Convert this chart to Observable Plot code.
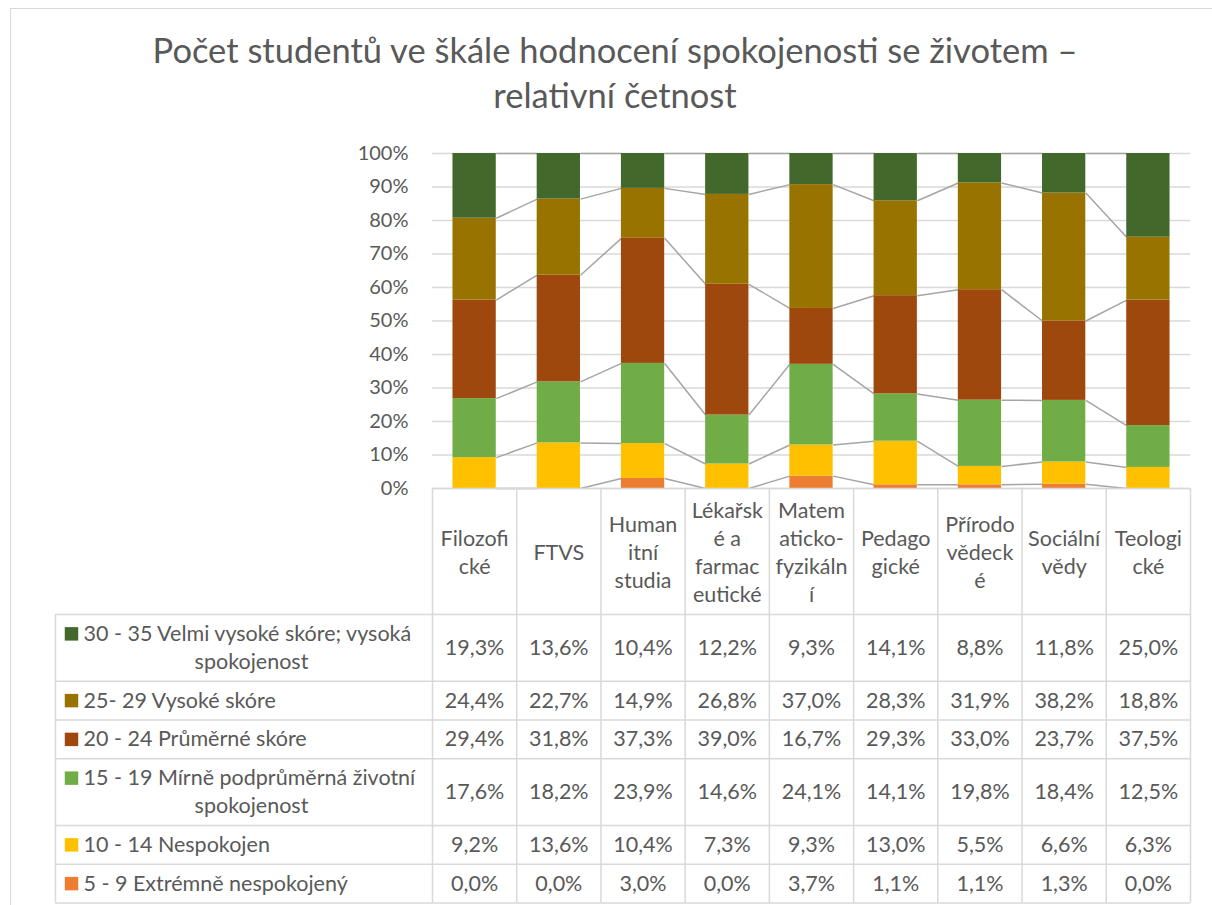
<!DOCTYPE html>
<html><head><meta charset="utf-8">
<script src="https://cdn.jsdelivr.net/npm/d3@7"></script>
<script src="https://cdn.jsdelivr.net/npm/@observablehq/plot@0.6"></script>
<style>
html,body{margin:0;padding:0;background:#fff;overflow:hidden;}
#wrap{position:relative;width:1212px;height:905px;font-family:Lato,sans-serif;}
#frame{position:absolute;left:10px;top:8px;width:1260px;height:960px;border:1.5px solid #d9d9d9;pointer-events:none;}
#title{height:118px;box-sizing:border-box;padding-top:27px;padding-left:18px;text-align:center;font-size:34.5px;line-height:45px;color:#595959;}
#chart svg,#table svg{display:block;}
#table{margin-top:-12px;}
</style></head>
<body>
<div id="wrap">
<div id="frame"></div>
<div id="title">Počet studentů ve škále hodnocení spokojenosti se životem –<br>relativní četnost</div>
<div id="chart"></div>
<div id="table"></div>
</div>
<script>
// ---- data ----
const categories = ["Filozofické","FTVS","Humanitní studia","Lékařské a farmaceutické","Matematicko-fyzikální","Pedagogické","Přírodovědecké","Sociální vědy","Teologické"];
const tickLabels = ["Filozofi\ncké","FTVS","Human\nitní\nstudia","Lékařsk\né a\nfarmac\neutické","Matem\naticko-\nfyzikáln\ní","Pedago\ngické","Přírodo\nvědeck\né","Sociální\nvědy","Teologi\ncké"];
const seriesNames = ["30 - 35 Velmi vysoké skóre; vysoká spokojenost","25- 29 Vysoké skóre","20 - 24 Průměrné skóre","15 - 19 Mírně podprůměrná životní spokojenost","10 - 14 Nespokojen","5 - 9 Extrémně nespokojený"];
const seriesLabels = ["30 - 35 Velmi vysoké skóre; vysoká\nspokojenost","25- 29 Vysoké skóre","20 - 24 Průměrné skóre","15 - 19 Mírně podprůměrná životní\nspokojenost","10 - 14 Nespokojen","5 - 9 Extrémně nespokojený"];
const seriesColors = ["#43682b","#997300","#9e480e","#70ad47","#ffc000","#ed7d31"];
const v30_35 = [19.3,13.6,10.4,12.2,9.3,14.1,8.8,11.8,25.0];
const v25_29 = [24.4,22.7,14.9,26.8,37.0,28.3,31.9,38.2,18.8];
const v20_24 = [29.4,31.8,37.3,39.0,16.7,29.3,33.0,23.7,37.5];
const v15_19 = [17.6,18.2,23.9,14.6,24.1,14.1,19.8,18.4,12.5];
const v10_14 = [9.2,13.6,10.4,7.3,9.3,13.0,5.5,6.6,6.3];
const v5_9   = [0.0,0.0,3.0,0.0,3.7,1.1,1.1,1.3,0.0];
const yTicks = [0,0.1,0.2,0.3,0.4,0.5,0.6,0.7,0.8,0.9,1.0];

const seriesValues = [v30_35,v25_29,v20_24,v15_19,v10_14,v5_9];
const fmt = v => v.toFixed(1).replace(".", ",") + "%";

// ---- stacked (100%) segments, bottom series first ----
const segs = [];
categories.forEach((c, i) => {
  const total = d3.sum(seriesValues, s => s[i]);
  let cum = 0;
  for (let k = seriesValues.length - 1; k >= 0; k--) {
    const v = seriesValues[k][i];
    segs.push({i, cat: c, series: seriesNames[k], v, y1: cum / total, y2: (cum + v) / total});
    cum += v;
  }
});
const links = [];
seriesNames.forEach(s => {
  const sg = segs.filter(d => d.series === s);
  for (let j = 0; j < sg.length - 1; j++) links.push({series: s, i: sg[j].i, a: sg[j].y2, b: sg[j + 1].y2});
});

const TXT = "#595959", GRID = "#d9d9d9";
const BAR_HALF = 0.257;
const axisFont = {fontFamily: "Lato, sans-serif", fontSize: "20px", color: TXT, overflow: "visible"};
const tableFont = {fontFamily: "Lato, sans-serif", fontSize: "21.5px", color: TXT, overflow: "visible"};

const chart = Plot.plot({
  width: 1212, height: 382, marginLeft: 432, marginRight: 22, marginTop: 35, marginBottom: 12,
  style: axisFont,
  x: {domain: [-0.5, categories.length - 0.5], axis: null},
  y: {domain: [0, 1], ticks: yTicks, tickFormat: d3.format(".0%"), tickSize: 0, tickPadding: 24, label: null},
  color: {domain: seriesNames, range: seriesColors},
  marks: [
    Plot.gridY(yTicks, {stroke: GRID, strokeOpacity: 1, strokeWidth: 1.3}),
    Plot.link(links, {x1: d => d.i + BAR_HALF, x2: d => d.i + 1 - BAR_HALF, y1: "a", y2: "b", stroke: "#a5a5a5", strokeWidth: 1.5}),
    Plot.rect(segs.filter(d => d.v > 0), {x1: d => d.i - BAR_HALF, x2: d => d.i + BAR_HALF, y1: "y1", y2: "y2", fill: "series"})
  ]
});
document.getElementById("chart").append(chart);

// ---- data table ----
const LABEL_W = 4.476;      // label column width in column widths
const LINE_H = 28, ROW_PAD = 10.75, HEADER_LINES = 4, HEADER_PAD = 14;
const headerH = HEADER_LINES * LINE_H + HEADER_PAD;
const rowLines = seriesLabels.map(l => l.split("\n").length);
const rows = [];
let yy = headerH;
rowLines.forEach((n, k) => { rows.push({k, top: yy, h: n * LINE_H + ROW_PAD}); yy += n * LINE_H + ROW_PAD; });
const tableBottom = yy;
const xLeft = -0.5 - LABEL_W, xRight = categories.length - 0.5;

const hLines = [{y: 0, x1: -0.5, x2: xRight}, {y: headerH, x1: xLeft, x2: xRight}]
  .concat(rows.map(r => ({y: r.top + r.h, x1: xLeft, x2: xRight})));
const vLines = d3.range(categories.length + 1).map(k => ({x: k - 0.5, y1: 0, y2: tableBottom}))
  .concat([{x: xLeft, y1: headerH, y2: tableBottom}]);

const cells = [];
rows.forEach(r => categories.forEach((c, i) => cells.push({i, y: r.top + r.h / 2, t: fmt(seriesValues[r.k][i])})));
const labelFirst = rows.map(r => ({k: r.k, y: r.top + ROW_PAD / 2 + LINE_H / 2, t: seriesLabels[r.k].split("\n")[0], s: seriesNames[r.k]}));
const labelRest = rows.filter(r => rowLines[r.k] > 1).map(r => ({y: r.top + ROW_PAD / 2 + LINE_H / 2 + LINE_H, t: seriesLabels[r.k].split("\n").slice(1).join("\n")}));

const H = 417;
const table = Plot.plot({
  width: 1212, height: H, marginLeft: 55, marginRight: 22, marginTop: 0, marginBottom: 0,
  style: tableFont,
  x: {domain: [xLeft, xRight], axis: null},
  y: {domain: [0, H], range: [0, H], axis: null},
  color: {domain: seriesNames, range: seriesColors},
  marks: [
    Plot.ruleY(hLines, {y: "y", x1: "x1", x2: "x2", stroke: GRID, strokeWidth: 1.5}),
    Plot.ruleX(vLines, {x: "x", y1: "y1", y2: "y2", stroke: GRID, strokeWidth: 1.5}),
    Plot.text(tickLabels.map((t, i) => ({i, t})), {x: "i", y: () => headerH / 2, text: "t", lineHeight: LINE_H / 21.5, fill: TXT}),
    Plot.text(cells, {x: "i", y: "y", text: "t", fill: TXT}),
    Plot.dot(labelFirst, {x: () => xLeft, dx: 16, y: "y", symbol: "square", r: 7.6, fill: "s", stroke: null}),
    Plot.text(labelFirst, {x: () => xLeft, dx: 28, y: "y", text: "t", textAnchor: "start", fill: TXT}),
    Plot.text(labelRest, {x: () => xLeft, dx: 196, y: "y", text: "t", fill: TXT})
  ]
});
document.getElementById("table").append(table);
</script>
</body></html>
